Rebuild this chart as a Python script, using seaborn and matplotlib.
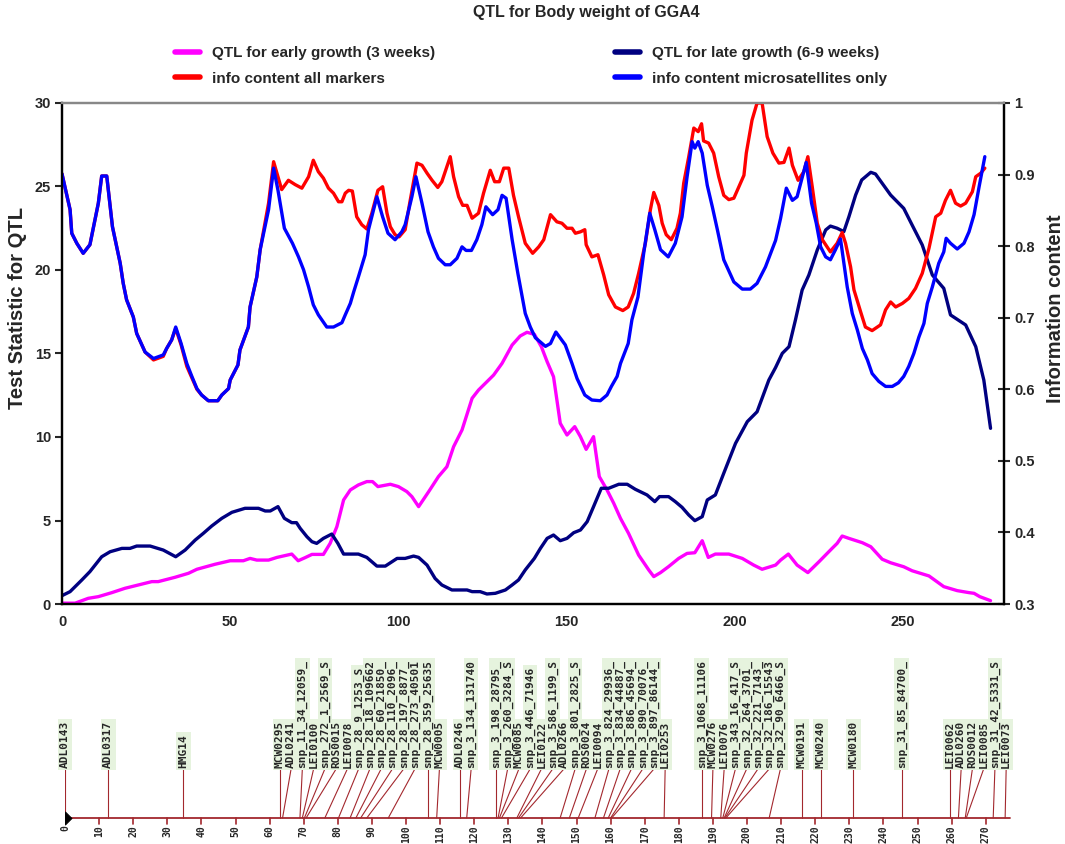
import numpy as np
import pandas as pd
import matplotlib.pyplot as plt
import seaborn as sns
from matplotlib.lines import Line2D

# QTL test statistic (left axis), position in cM
early_growth = [
    (0, 0.05), (3.9, 0.05), (7.8, 0.34), (10.8, 0.44), (14.8, 0.68), (18.7, 0.94),
    (22.7, 1.14), (26.7, 1.34), (28.6, 1.34), (33.6, 1.60), (37.6, 1.84), (40.1, 2.08),
    (45.5, 2.38), (50, 2.59), (53.9, 2.59), (55.9, 2.73), (57.9, 2.63), (61.4, 2.63),
    (63.9, 2.79), (68.3, 2.99), (70.2, 2.59), (72.2, 2.77), (74.3, 2.97), (77.7, 2.97),
    (79.7, 3.63), (81.7, 4.63), (83.7, 6.23), (85.7, 6.83), (88.1, 7.13), (90.6, 7.33),
    (92.3, 7.33), (93.9, 7.03), (97.6, 7.17), (100, 7.03), (102.5, 6.73), (104, 6.43),
    (106, 5.83), (109, 6.73), (111.9, 7.63), (114.4, 8.22), (116.4, 9.42), (118.9, 10.42),
    (121.9, 12.32), (123.8, 12.81), (125.8, 13.21), (128.3, 13.71), (130.8, 14.41),
    (133.8, 15.51), (136.2, 16.05), (138.2, 16.27), (140.4, 16.15), (142.5, 15.4),
    (144.2, 14.51), (146.1, 13.61), (147.1, 12.22), (148.1, 10.82), (150.1, 10.12),
    (152.4, 10.62), (154.1, 10.02), (155.8, 9.26), (158, 10.02), (159.7, 7.63), (162, 6.83),
    (164, 6.03), (166, 5.13), (168.4, 4.23), (171.4, 2.93), (174.4, 2.04), (175.9, 1.64),
    (177.9, 1.88), (180.3, 2.24), (183.3, 2.73), (185.8, 3.03), (188.1, 3.07), (190.3, 3.79),
    (192.1, 2.79), (194.2, 2.99), (198.2, 2.99), (202.2, 2.73), (205.6, 2.33), (208.1, 2.08),
    (212.1, 2.33), (213.6, 2.63), (215.9, 2.99), (218.5, 2.33), (221.7, 1.88), (225, 2.53),
    (228.9, 3.33), (230.4, 3.63), (231.9, 4.07), (233.9, 3.93), (237.9, 3.67), (240.4, 3.43),
    (243.8, 2.68), (246.3, 2.47), (250.2, 2.23), (252.7, 1.99), (257.7, 1.68), (262.1, 1.04),
    (266.1, 0.80), (269.6, 0.68), (271.1, 0.64), (272.8, 0.44), (276, 0.20),
]

late_growth = [
    (0, 0.5), (2.4, 0.74), (5.9, 1.44), (8.3, 1.94), (11.8, 2.83), (14.3, 3.13), (17.8, 3.33),
    (20.2, 3.33), (22.2, 3.47), (26.2, 3.47), (30.1, 3.23), (33.8, 2.83), (36.6, 3.23),
    (39.6, 3.83), (42, 4.23), (44.5, 4.67), (47.5, 5.13), (50.5, 5.49), (54.4, 5.73),
    (58.4, 5.73), (60.4, 5.57), (61.9, 5.57), (64.2, 5.83), (66.1, 5.13), (68.3, 4.87),
    (69.7, 4.87), (70.8, 4.53), (72.8, 4.03), (74.3, 3.73), (75.7, 3.63), (77.7, 3.93),
    (80.2, 4.19), (82, 3.63), (83.7, 2.99), (88.1, 2.99), (90.6, 2.79), (93.6, 2.27),
    (96.1, 2.27), (99.6, 2.73), (102, 2.73), (104.5, 2.87), (106, 2.79), (108.5, 2.33),
    (110.9, 1.53), (112.9, 1.14), (115.9, 0.84), (120.4, 0.84), (121.9, 0.74), (124.3, 0.74),
    (126.3, 0.60), (128.8, 0.64), (131.8, 0.84), (133.8, 1.14), (135.7, 1.44), (137.7, 2.04),
    (140.4, 2.73), (142.2, 3.33), (144.2, 3.93), (146.1, 4.13), (148.1, 3.79), (150.1, 3.93),
    (152.1, 4.27), (154.1, 4.43), (156.1, 4.93), (158, 5.83), (160.3, 6.93), (162.5, 6.93),
    (165.5, 7.17), (168, 7.17), (170.4, 6.87), (173.9, 6.53), (176.2, 6.13), (177.6, 6.43),
    (180.3, 6.43), (182.3, 6.13), (184.3, 5.79), (186.3, 5.33), (188.1, 4.99), (190.3, 5.23),
    (191.8, 6.23), (194.2, 6.53), (196.7, 7.83), (200.2, 9.62), (203.7, 10.92), (206.6, 11.51),
    (210.1, 13.41), (212.1, 14.16), (214.1, 15.01), (216.1, 15.41), (218, 17.0), (220, 18.8),
    (222, 19.7), (224.5, 21.2), (227, 22.4), (228.4, 22.63), (230.4, 22.5), (232.4, 22.3),
    (233.9, 23.19), (235.9, 24.49), (237.7, 25.39), (240.4, 25.85), (241.8, 25.75),
    (243.8, 25.19), (246.3, 24.49), (250.2, 23.69), (252.7, 22.69), (255.7, 21.5),
    (258.7, 19.7), (262.1, 18.9), (264.1, 17.31), (268.6, 16.71), (271.6, 15.41),
    (274, 13.41), (276, 10.52),
]

# information content (right axis)
info_micro = [
    (0, 0.901), (2.4, 0.851), (2.9, 0.818), (4.4, 0.804), (6.3, 0.790), (8.3, 0.802),
    (10.8, 0.860), (11.8, 0.898), (13.3, 0.898), (15, 0.827), (17.3, 0.776), (18.2, 0.748),
    (19.2, 0.725), (21.2, 0.701), (22.2, 0.678), (24.7, 0.652), (27.2, 0.643), (30.1, 0.648),
    (31.1, 0.657), (32.6, 0.669), (33.8, 0.687), (35.4, 0.664), (37.1, 0.636), (38.6, 0.618),
    (40.1, 0.601), (41.5, 0.592), (43.5, 0.584), (46.3, 0.584), (47.5, 0.592), (49.5, 0.601),
    (50, 0.613), (52.3, 0.634), (52.9, 0.655), (55.4, 0.687), (55.9, 0.715), (57.9, 0.757),
    (58.9, 0.795), (61.4, 0.851), (62.9, 0.909), (64.2, 0.878), (66.1, 0.825), (68.5, 0.804),
    (70.3, 0.785), (71.8, 0.767), (73.3, 0.743), (74.7, 0.718), (76.2, 0.704), (78.7, 0.687),
    (80.7, 0.687), (83.2, 0.693), (84.2, 0.704), (85.7, 0.720), (86.7, 0.736), (88.1, 0.757),
    (90.1, 0.788), (91.1, 0.823), (93.6, 0.869), (95.3, 0.841), (96.9, 0.818), (99, 0.809),
    (101, 0.820), (102, 0.830), (104, 0.869), (105.2, 0.897), (107, 0.860), (108.8, 0.820),
    (110.4, 0.799), (111.9, 0.783), (113.9, 0.774), (115.4, 0.774), (117.4, 0.783),
    (118.9, 0.799), (120.1, 0.794), (121.7, 0.794), (123.3, 0.809), (124.8, 0.830),
    (126, 0.855), (128, 0.844), (129.6, 0.851), (130.8, 0.871), (132, 0.867), (133.8, 0.809),
    (135.5, 0.762), (137.7, 0.706), (139.2, 0.687), (140.7, 0.672), (143.7, 0.660),
    (145.2, 0.664), (146.8, 0.680), (149.6, 0.662), (151.6, 0.636), (153.1, 0.615),
    (155.4, 0.592), (157.5, 0.585), (160, 0.584), (162, 0.592), (163.3, 0.604), (165, 0.618),
    (166, 0.636), (168.3, 0.664), (169.4, 0.697), (171.2, 0.729), (172.9, 0.790),
    (174.7, 0.846), (176.2, 0.823), (177.9, 0.795), (180.2, 0.785), (182.3, 0.804),
    (184.3, 0.841), (185.8, 0.897), (187.3, 0.946), (188.1, 0.937), (189.1, 0.946),
    (190.3, 0.930), (191.8, 0.885), (193.3, 0.855), (194.8, 0.823), (196.7, 0.781),
    (199.7, 0.750), (202.2, 0.740), (204.6, 0.740), (206.6, 0.748), (209.1, 0.771),
    (212.1, 0.808), (213.6, 0.839), (215.3, 0.881), (217.1, 0.864), (218.5, 0.869),
    (219.8, 0.892), (221.2, 0.917), (222.8, 0.860), (224.2, 0.832), (225.5, 0.799),
    (227, 0.785), (228.4, 0.781), (229.9, 0.795), (231.4, 0.810), (232.4, 0.776),
    (233.4, 0.743), (234.9, 0.706), (236.4, 0.683), (237.9, 0.657), (239.4, 0.641),
    (240.8, 0.622), (242.8, 0.611), (244.8, 0.604), (246.8, 0.604), (248.6, 0.609),
    (250.2, 0.618), (251.7, 0.632), (253.2, 0.650), (254.7, 0.673), (256.2, 0.692),
    (257.2, 0.720), (258.7, 0.743), (260.6, 0.776), (262.1, 0.792), (262.8, 0.811),
    (264.1, 0.804), (266.1, 0.796), (268.1, 0.804), (269.6, 0.820), (271.1, 0.844),
    (272.6, 0.883), (274.3, 0.925),
]

info_all = [
    (0, 0.901), (2.4, 0.851), (2.9, 0.818), (4.4, 0.804), (6.3, 0.790), (8.3, 0.802),
    (10.8, 0.860), (11.8, 0.898), (13.3, 0.898), (15, 0.827), (17.3, 0.776), (18.2, 0.748),
    (19.2, 0.725), (21.2, 0.701), (22.2, 0.678), (24.7, 0.652), (27.2, 0.641), (30.1, 0.646),
    (31.1, 0.657), (32.6, 0.669), (33.8, 0.685), (35.4, 0.662), (37.1, 0.632), (38.6, 0.616),
    (40.1, 0.600), (41.5, 0.592), (43.5, 0.584), (46.3, 0.584), (47.5, 0.592), (49.5, 0.601),
    (50, 0.613), (52.3, 0.634), (52.9, 0.655), (55.4, 0.687), (55.9, 0.715), (57.9, 0.757),
    (58.9, 0.795), (61.4, 0.860), (62.9, 0.918), (65.3, 0.879), (67.3, 0.892), (69.3, 0.886),
    (71.3, 0.881), (73.3, 0.897), (74.7, 0.920), (76.2, 0.904), (77.7, 0.895), (79.2, 0.881),
    (80.7, 0.874), (82.2, 0.862), (83.2, 0.862), (84.2, 0.874), (85.2, 0.878), (86.3, 0.877),
    (87.6, 0.841), (89.1, 0.830), (90.6, 0.824), (92.1, 0.846), (93.9, 0.878), (95.3, 0.883),
    (96.6, 0.846), (97.6, 0.827), (99, 0.816), (100.2, 0.813), (102, 0.823), (103.5, 0.864),
    (105.5, 0.916), (107, 0.913), (108.5, 0.902), (110, 0.892), (111.7, 0.882), (112.9, 0.890),
    (114.4, 0.911), (115.4, 0.925), (116.4, 0.897), (117.9, 0.869), (119.1, 0.857),
    (120.4, 0.857), (121.9, 0.839), (123.8, 0.846), (125.3, 0.874), (127.3, 0.906),
    (128.6, 0.890), (130, 0.890), (131.3, 0.909), (132.8, 0.909), (134.2, 0.871),
    (135.7, 0.841), (137.7, 0.804), (139.9, 0.790), (141.7, 0.799), (143.2, 0.809),
    (145.2, 0.844), (147.1, 0.834), (148.6, 0.832), (150.1, 0.825), (151.6, 0.825),
    (152.6, 0.818), (154.1, 0.820), (155.4, 0.823), (155.8, 0.802), (157.5, 0.785),
    (159.3, 0.788), (161, 0.760), (162.5, 0.732), (164.5, 0.715), (166.7, 0.710),
    (168.3, 0.715), (169.9, 0.734), (171.4, 0.762), (173.4, 0.804), (174.9, 0.851),
    (175.9, 0.875), (177.4, 0.857), (178.4, 0.832), (179.6, 0.816), (181.1, 0.809),
    (182.8, 0.825), (183.8, 0.846), (184.8, 0.888), (186.3, 0.925), (187.8, 0.965),
    (189.1, 0.960), (190.1, 0.971), (190.7, 0.947), (192.2, 0.944), (193.7, 0.930),
    (195.2, 0.897), (196.7, 0.871), (198.2, 0.865), (199.7, 0.867), (201.2, 0.883),
    (202.7, 0.899), (203.4, 0.930), (205.1, 0.976), (206.6, 1.0), (208.1, 1.0),
    (209.6, 0.953), (211.3, 0.930), (213.1, 0.916), (214.6, 0.917), (216.1, 0.937),
    (217.1, 0.913), (218.8, 0.892), (220.5, 0.904), (221.7, 0.925), (223, 0.883),
    (224.5, 0.832), (226, 0.809), (228.4, 0.792), (230.4, 0.804), (231.9, 0.819),
    (232.9, 0.804), (234.4, 0.771), (235.4, 0.739), (237.4, 0.708), (238.8, 0.687),
    (240.8, 0.682), (243.3, 0.690), (244.8, 0.711), (246.3, 0.722), (247.8, 0.715),
    (249.8, 0.720), (251.7, 0.727), (253.7, 0.741), (255.7, 0.762), (257.7, 0.797),
    (259.7, 0.841), (261.2, 0.846), (262.6, 0.864), (264.1, 0.878), (265.6, 0.860),
    (267.1, 0.856), (268.6, 0.860), (270.6, 0.876), (271.6, 0.897), (273.1, 0.902),
    (274.3, 0.909),
]

# linkage map of GGA4 (cM)
marker_names = [
    "ADL0143", "ADL0317", "HMG14", "MCW0295", "ADL0241", "snp_11_34_12059_", "LEI0100",
    "snp_272_1_2569_S", "ROS0015", "LEI0078", "snp_28_9_1253_S", "snp_28_18_109662",
    "snp_28_60_21850_", "snp_28_110_2096_", "snp_28_197_8877_", "snp_28_273_40501",
    "snp_28_359_25635", "MCW0005", "ADL0246", "snp_3_134_131740", "snp_3_198_28795_",
    "snp_3_260_3284_S", "MCW0085", "snp_3_446_71946", "LEI0122", "snp_3_586_1199_S",
    "ADL0266", "snp_3_801_2825_S", "ROS0024", "LEI0094", "snp_3_824_29936_",
    "snp_3_834_44887_", "snp_3_886_45694_", "snp_3_890_70076_", "snp_3_897_86144_",
    "LEI0253", "snp_3_1068_11106", "MCW0276", "LEI0076", "snp_343_16_417_S",
    "snp_32_264_3701_", "snp_32_221_7143_", "snp_32_186_15543", "snp_32_90_6466_S",
    "MCW0191", "MCW0240", "MCW0180", "snp_31_85_84700_", "LEI0062", "ADL0260", "ROS0012",
    "LEI0085", "snp_31_42_5331_S", "LEI0073",
]
marker_cm = [
    0.0, 12.7, 34.7, 63.0, 63.8, 68.9, 69.6, 70.2, 70.7, 76.2, 80.2, 83.6, 85.3, 86.7, 88.5,
    94.8, 106.5, 109.0, 115.8, 117.8, 126.5, 127.0, 127.4, 128.0, 132.5, 133.0, 133.6,
    145.2, 147.9, 150.5, 155.4, 157.9, 159.3, 160.0, 160.3, 175.7, 186.7, 189.6, 192.3,
    192.9, 193.3, 193.5, 193.8, 206.5, 216.0, 221.6, 231.2, 245.4, 259.5, 262.0, 264.0,
    264.3, 272.2, 275.7,
]
map_length = 277

sns.set_style("white")
plt.rcParams['font.family'] = ['Liberation Sans', 'DejaVu Sans']
plt.rcParams['font.weight'] = 'bold'

W, H = 1065, 844
fig = plt.figure(figsize=(W / 100, H / 100), dpi=100)
ax = fig.add_axes([62 / W, 1 - 604 / H, 942 / W, 501 / H])
ax2 = ax.twinx()

def frame(pts):
    return pd.DataFrame(pts, columns=["pos", "val"])

sns.lineplot(data=frame(early_growth), x="pos", y="val", ax=ax, color="#ff00ff",
             lw=2.4, estimator=None, sort=False)
sns.lineplot(data=frame(late_growth), x="pos", y="val", ax=ax, color="#000080",
             lw=2.4, estimator=None, sort=False)
sns.lineplot(data=frame(info_all), x="pos", y="val", ax=ax2, color="#ff0000",
             lw=2.4, estimator=None, sort=False)
sns.lineplot(data=frame(info_micro), x="pos", y="val", ax=ax2, color="#0000ff",
             lw=2.4, estimator=None, sort=False)

ax.set_xlim(0, 280)
ax.set_ylim(0, 30)
ax2.set_ylim(0.3, 1.0)
ax.set_xticks(np.arange(0, 251, 50))
ax.set_yticks(np.arange(0, 31, 5))
ax2.set_yticks(np.arange(0.3, 1.001, 0.1))
ax2.set_yticklabels([f"{v:g}" for v in np.round(np.arange(0.3, 1.001, 0.1), 1)])

ax.set_xlabel("")
ax.set_ylabel("Test Statistic for QTL", fontsize=14.5, fontweight="bold")
ax2.set_ylabel("Information content", fontsize=14.5, fontweight="bold")
ax.yaxis.set_label_coords(-0.037, 0.59)
ax2.yaxis.set_label_coords(1.045, 0.59)

for a in (ax, ax2):
    for s in a.spines.values():
        s.set_linewidth(1.6)
        s.set_color("black")
    a.spines["top"].set_color("#888888")
ax.tick_params(axis="both", direction="out", length=5, width=1.5, labelsize=10.5, pad=3)
ax2.tick_params(axis="y", direction="inout", length=9, width=1.5, labelsize=10.5, pad=3)

# legend
handles = [
    Line2D([], [], color="#ff00ff", lw=4),
    Line2D([], [], color="#ff0000", lw=4),
    Line2D([], [], color="#000080", lw=4),
    Line2D([], [], color="#0000ff", lw=4),
]
labels = ["QTL for early growth (3 weeks)", "info content all markers",
          "QTL for late growth (6-9 weeks)", "info content microsatellites only"]
fig.legend(handles, labels, ncol=2, loc="center", bbox_to_anchor=(531 / W, 1 - 66 / H),
           frameon=False, fontsize=11, handlelength=1.6, handletextpad=0.8,
           columnspacing=11.8, labelspacing=0.75)

fig.text(586 / W, 1 - 13 / H, "QTL for Body weight of GGA4", ha="center", va="center",
         fontsize=11.5, fontweight="bold")

# marker map below the chart
mx = fig.add_axes([65 / W, 0, 3.41 * 280 / W, 208 / H])
mx.set_xlim(0, 280)
mx.set_ylim(844, 636)
mx.axis("off")

axis_row, label_row = 818, 769
map_red = "#a3282e"
label_x = []
prev = -1e9
for c in marker_cm:
    lx = max(c, prev + 3.3)
    label_x.append(lx)
    prev = lx

for name, c, lx in zip(marker_names, marker_cm, label_x):
    mx.plot([lx, c], [label_row, axis_row], color=map_red, lw=0.8, zorder=2)
    # pale box behind the label, then the label itself on top of all boxes
    mx.text(lx, label_row - 1, name, rotation=90, ha="center", va="bottom",
            family="DejaVu Sans Mono", fontsize=8, fontweight="bold", zorder=3,
            color=(0, 0, 0, 0),
            bbox=dict(boxstyle="square,pad=0.2", fc="#e6f3de", ec="none"))
    mx.text(lx, label_row - 1, name, rotation=90, ha="center", va="bottom",
            family="DejaVu Sans Mono", fontsize=8, fontweight="bold", zorder=4)

mx.plot([0, map_length], [axis_row, axis_row], color=map_red, lw=1.3, zorder=3)
for t in range(0, 271, 10):
    mx.plot([t, t], [axis_row, axis_row + 6], color=map_red, lw=1.2, zorder=3)
    mx.text(t, axis_row + 7, str(t), rotation=90, ha="center", va="top",
            family="DejaVu Sans Mono", fontsize=7, fontweight="bold")
sns.scatterplot(x=[0], y=[axis_row], ax=mx, marker="D", s=45, color="black", zorder=5,
                edgecolor="black")

fig.savefig("out.png", dpi=100)
